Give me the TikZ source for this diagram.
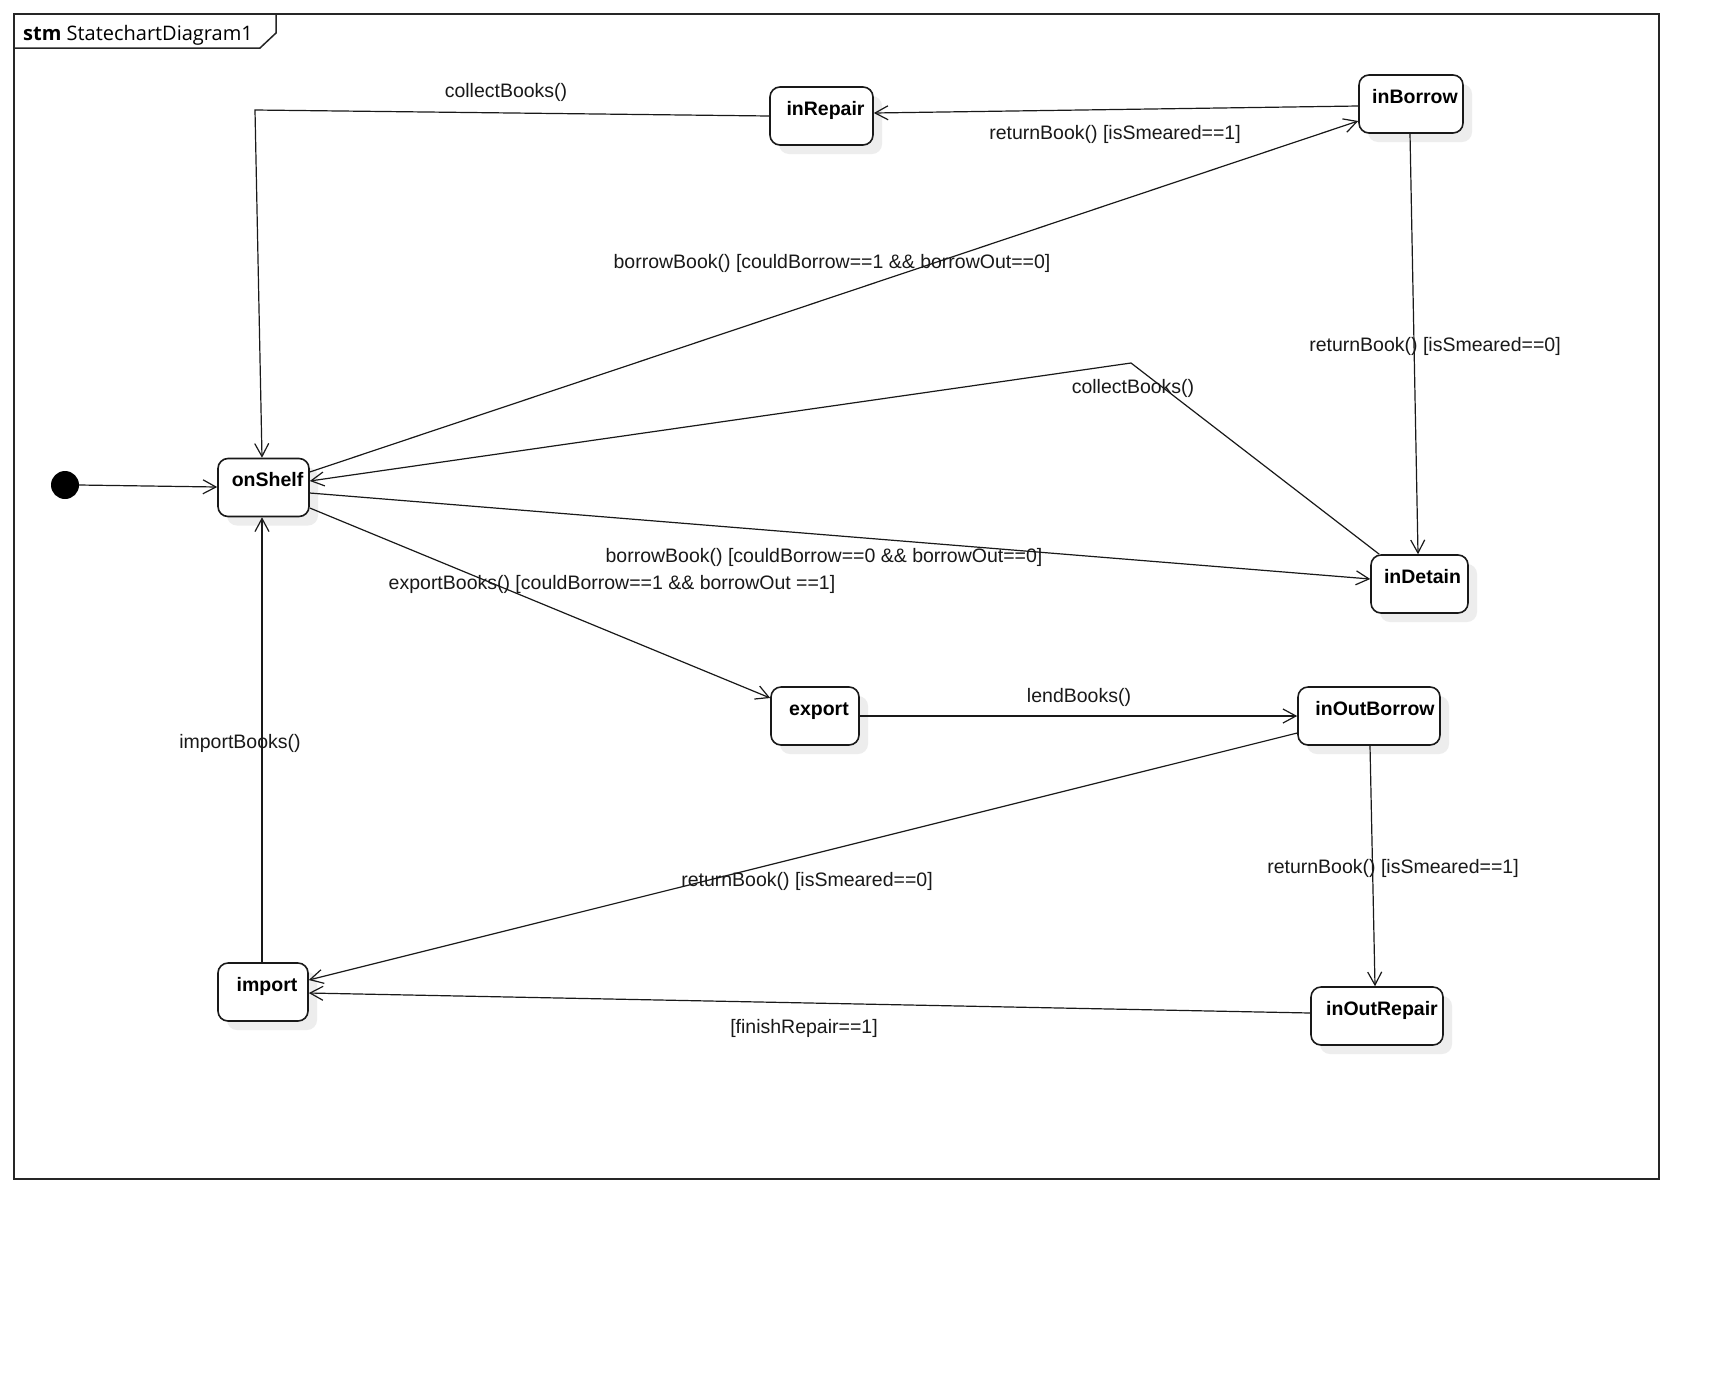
\documentclass[tikz,border=0pt]{standalone}
\usepackage{fontspec}
\setmainfont{Liberation Sans}
\newfontfamily\titlefont{Open Sans}
\usetikzlibrary{arrows.meta,shadows,calc}
\begin{document}
\begin{tikzpicture}[x=1pt,y=-1pt,
  statebox/.style={draw=black!90, line width=1.6pt, rounded corners=10pt, fill=white,
    minimum height=58pt, inner sep=0pt,
    general shadow={fill=black!7, shadow xshift=9pt, shadow yshift=-9pt}},
  stext/.style={font=\fontsize{19.5}{22}\selectfont\bfseries, anchor=base, inner sep=0pt},
  lbl/.style={font=\fontsize{19.5}{22}\selectfont, inner sep=0pt, text=black!90},
  tr/.style={draw=black!90, line width=1.2pt, -{Straight Barb[length=13pt,width=14pt,line width=1.2pt]}},
]
\useasboundingbox (0,0) rectangle (1728,1374);
\fill[white] (0,0) rectangle (1728,1374);

% frame
\draw[line width=1.5pt, black!85] (14,14) rectangle (1659,1179);
\draw[line width=1.5pt, black!85] (14,48) -- (260,48) -- (276,33) -- (276,14);
\node[anchor=base west, inner sep=0pt] (title) at (23,40.5) {\titlefont\fontsize{20}{23}\selectfont\textbf{stm} StatechartDiagram1};

% states
\node[statebox, minimum width=91pt] (onShelf) at (263.5,487.5) {};
\node[statebox, minimum width=103pt] (inRepair) at (821.5,116) {};
\node[statebox, minimum width=104pt] (inBorrow) at (1411,104) {};
\node[statebox, minimum width=97pt] (inDetain) at (1419.5,584) {};
\node[statebox, minimum width=88pt] (export) at (815,716) {};
\node[statebox, minimum width=142pt] (inOutBorrow) at (1369,716) {};
\node[statebox, minimum width=90pt] (import) at (263,992) {};
\node[statebox, minimum width=132pt] (inOutRepair) at (1377,1016) {};

\node[stext] (tOnShelf) at ($(onShelf.north)+(4,29)$) {onShelf};
\node[stext] (tInRepair) at ($(inRepair.north)+(4,29)$) {inRepair};
\node[stext] (tInBorrow) at ($(inBorrow.north)+(4,29)$) {inBorrow};
\node[stext] (tInDetain) at ($(inDetain.north)+(3,29)$) {inDetain};
\node[stext] (tExport) at ($(export.north)+(4,29)$) {export};
\node[stext] (tInOutBorrow) at ($(inOutBorrow.north)+(6,29)$) {inOutBorrow};
\node[stext] (tImport) at ($(import.north)+(4,29)$) {import};
\node[stext] (tInOutRepair) at ($(inOutRepair.north)+(5,29)$) {inOutRepair};

% initial
\node[circle, fill=black, minimum size=28pt, inner sep=0pt] (init) at (65,485) {};

% bend points
\coordinate (b1) at (255,110);
\coordinate (b2) at (1131,363);

% transitions
\draw[tr] (inRepair.west) -- (b1) -- ($(onShelf.north)+(-1.5,0)$);
\draw[tr] ($(inBorrow.west)+(0,2)$) -- ($(inRepair.east)+(0,-3)$);
\draw[tr] ($(onShelf.east)+(0,-15.5)$) -- ($(inBorrow.west)+(0,17)$);
\draw[tr] ($(inBorrow.south)+(-1,0)$) -- ($(inDetain.north)+(-1.5,0)$);
\draw[tr] ($(inDetain.north west)+(9,0)$) -- (b2) -- ($(onShelf.east)+(0,-6.5)$);
\draw[tr] ($(onShelf.east)+(0,5.5)$) -- ($(inDetain.west)+(0,-5)$);
\draw[tr] ($(onShelf.east)+(0,20.5)$) -- ($(export.west)+(0,-18)$);
\draw[tr] (export.east) -- (inOutBorrow.west);
\draw[tr] ($(inOutBorrow.west)+(0,17)$) -- ($(import.east)+(0,-12)$);
\draw[tr] ($(inOutBorrow.south)+(1,0)$) -- ($(inOutRepair.north)+(-2,0)$);
\draw[tr] ($(inOutRepair.west)+(0,-3)$) -- ($(import.east)+(0,1)$);
\draw[tr] ($(import.north)+(-1,0)$) -- ($(onShelf.south)+(-1.5,0)$);
\draw[tr] (init.east) -- ($(onShelf.west)+(0,-0.5)$);

% labels
\node[lbl] (l1) at (506,92.5) {collectBooks()};
\node[lbl] (l2) at (1115,134.5) {returnBook() [isSmeared==1]};
\node[lbl] (l3) at (832,263.5) {borrowBook() [couldBorrow==1 \&\& borrowOut==0]};
\node[lbl] (l4) at (1435,346.5) {returnBook() [isSmeared==0]};
\node[lbl] (l5) at (1133,388.5) {collectBooks()};
\node[lbl] (l6) at (824,557.5) {borrowBook() [couldBorrow==0 \&\& borrowOut==0]};
\node[lbl] (l7) at (612,584.5) {exportBooks() [couldBorrow==1 \&\& borrowOut ==1]};
\node[lbl] (l8) at (1079,697.5) {lendBooks()};
\node[lbl] (l9) at (240,743.5) {importBooks()};
\node[lbl] (l10) at (807,881.5) {returnBook() [isSmeared==0]};
\node[lbl] (l11) at (1393,868.5) {returnBook() [isSmeared==1]};
\node[lbl] (l12) at (804,1028.5) {[finishRepair==1]};
\end{tikzpicture}
\end{document}
